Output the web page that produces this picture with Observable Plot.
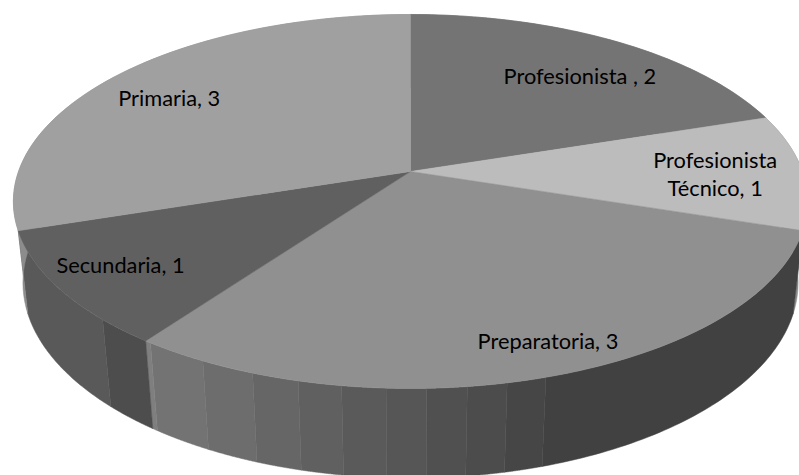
<!DOCTYPE html>
<html>
<head>
<meta charset="utf-8">
<script src="https://cdn.jsdelivr.net/npm/d3@7"></script>
<script src="https://cdn.jsdelivr.net/npm/@observablehq/plot@0.6"></script>
<style>
  html, body { margin: 0; padding: 0; background: #fff; overflow: hidden; }
  svg { display: block; }
</style>
</head>
<body>
<div id="chart"></div>
<script>
// Nivel de estudios: categories, counts and the grey of each top face
const categories = ["Profesionista ", "Profesionista\nTécnico", "Preparatoria", "Secundaria", "Primaria"];
const values = [2, 1, 3, 1, 3];
const topGreys = ["#747474", "#bcbcbc", "#909090", "#606060", "#a0a0a0"];

// Label placement on the disc: bearing in degrees and fraction of the radius
const labelBearings = [39.3, 90.7, 159.2, 235.5, 303.7];
const labelRadii = [0.745, 0.776, 0.86, 0.83, 0.792];

// Shaded facets of the rim: bearing where each one ends and its grey
const rimEdges = [0, 72, 108, 163, 168, 173, 178, 183, 188.5, 194, 200, 207, 215.2, 216, 224, 252, 360];
const rimGreys = ["#7a7a7a", "#8a8a8a", "#414141", "#464646", "#4c4c4c", "#505050", "#565656", "#5a5a5a", "#606060", "#666666", "#6d6d6d", "#737373", "#7f7f7f", "#4d4d4d", "#595959", "#8c8c8c"];

// Perspective of the tilted disc and the drop from its top face to its base
const tilt = 0.1604;
const baseSpread = 0.024;
const baseDrop = -0.453;

const rad = Math.PI / 180;
const project = (bearing, r = 1, spread = 0, drop = 0) => {
  const u = r * Math.sin(bearing * rad);
  const v = r * Math.cos(bearing * rad);
  const w = 1 + tilt * v + spread;
  return {x: u / w, y: (v + drop) / w};
};

const arc = (a, b) => d3.range(0, 61).map((i) => a + (b - a) * i / 60);

const total = d3.sum(values);
const stops = [0, ...d3.cumsum(values).map((c) => c / total * 360)];

const topFaces = values.flatMap((_, i) => {
  const ring = arc(stops[i], stops[i + 1]).map((b) => project(b));
  return [{x: 0, y: 0}, ...ring, {x: 0, y: 0}].map((p) => ({...p, key: `top${i}`, fill: topGreys[i]}));
});

const rimFacets = rimGreys.flatMap((fill, i) => {
  const angles = arc(rimEdges[i], rimEdges[i + 1]);
  const upper = angles.map((b) => project(b));
  const lower = angles.map((b) => project(b, 1, baseSpread, baseDrop)).reverse();
  return [...upper, ...lower, upper[0]].map((p) => ({...p, key: `rim${i}`, fill}));
});

const labels = categories.map((name, i) => ({
  ...project(labelBearings[i], labelRadii[i]),
  text: `${name}, ${values[i]}`
}));

const chart = Plot.plot({
  width: 799,
  height: 475,
  margin: 0,
  x: {domain: [-410 / 392, 389 / 392], axis: null},
  y: {domain: [-304 / 182.2, 171 / 182.2], axis: null},
  color: {type: "identity"},
  style: {background: "#fff", overflow: "hidden"},
  marks: [
    Plot.line(rimFacets, {x: "x", y: "y", z: "key", fill: "fill", stroke: "fill", strokeWidth: 0.5, curve: "linear"}),
    Plot.line(topFaces, {x: "x", y: "y", z: "key", fill: "fill", stroke: "fill", strokeWidth: 0.5, curve: "linear"}),
    Plot.text(labels, {x: "x", y: "y", text: "text", fill: "#000", fontFamily: "Lato", fontSize: 21.8, lineHeight: 1.28})
  ]
});
document.getElementById("chart").append(chart);
</script>
</body>
</html>
